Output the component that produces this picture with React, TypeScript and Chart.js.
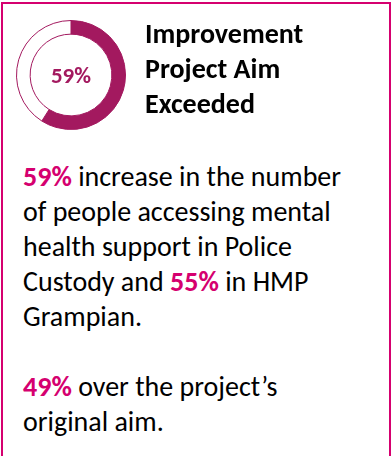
import React, { useEffect, useRef } from 'react';
import { Chart, registerables } from 'chart.js';

Chart.register(...registerables);

// ---- data ----
const segmentLabels = ['Aim achieved', 'Remaining'];
const segmentValues = [59, 41];
const centerLabel = `${segmentValues[0]}%`;
const titleLines = ['Improvement', 'Project Aim', 'Exceeded'];
const custodyIncrease = '59%';
const prisonIncrease = '55%';
const overAim = '49%';

const ARC_COLOR = '#A3195F';
const PINK = '#D5006F';
const FONT = 'Carlito, Lato, "Open Sans", sans-serif';

function Doughnut() {
  const ref = useRef<HTMLCanvasElement | null>(null);
  useEffect(() => {
    if (!ref.current) return;
    const chart = new Chart(ref.current, {
      type: 'doughnut',
      data: {
        labels: segmentLabels,
        datasets: [
          {
            data: segmentValues,
            backgroundColor: [ARC_COLOR, '#FFFFFF'],
            borderColor: ARC_COLOR,
            borderWidth: 1,
          },
        ],
      },
      options: {
        responsive: false,
        animation: false,
        cutout: '75%',
        rotation: 0,
        plugins: { legend: { display: false }, tooltip: { enabled: false } },
        layout: { padding: 0 },
      },
    });
    return () => chart.destroy();
  }, []);
  return (
    <canvas
      ref={ref}
      width={110}
      height={110}
      style={{ position: 'absolute', left: 16, top: 20, width: 110, height: 110 }}
    />
  );
}

const hl: React.CSSProperties = { color: PINK, fontWeight: 700 };

export default function App() {
  return (
    <div
      style={{
        position: 'fixed',
        left: 0,
        top: 0,
        width: 391,
        height: 456,
        overflow: 'hidden',
        background: '#fff',
        fontFamily: FONT,
      }}
    >
      <div
        style={{
          position: 'absolute',
          left: 1,
          top: 2,
          width: 390,
          height: 480,
          boxSizing: 'border-box',
          border: `2.5px solid ${PINK}`,
        }}
      />
      <Doughnut />
      <div
        style={{
          position: 'absolute',
          left: 16,
          top: 20,
          width: 110,
          height: 110,
          display: 'flex',
          alignItems: 'center',
          justifyContent: 'center',
          color: ARC_COLOR,
          fontWeight: 700,
          fontSize: 23,
        }}
      >
        {centerLabel}
      </div>
      <div
        style={{
          position: 'absolute',
          left: 145,
          top: 16,
          fontWeight: 700,
          fontSize: 28,
          lineHeight: '35px',
          color: '#000',
          whiteSpace: 'nowrap',
        }}
      >
        {titleLines.map((t) => (
          <div key={t}>{t}</div>
        ))}
      </div>
      <div
        style={{
          position: 'absolute',
          left: 23,
          top: 159,
          fontSize: 28,
          lineHeight: '35px',
          color: '#000',
          whiteSpace: 'nowrap',
        }}
      >
        <div>
          <span style={hl}>{custodyIncrease}</span> increase in the number
        </div>
        <div>of people accessing mental</div>
        <div>health support in Police</div>
        <div>
          Custody and <span style={hl}>{prisonIncrease}</span> in HMP
        </div>
        <div>Grampian.</div>
        <div>&nbsp;</div>
        <div>
          <span style={hl}>{overAim}</span> over the project’s
        </div>
        <div>original aim.</div>
      </div>
    </div>
  );
}
